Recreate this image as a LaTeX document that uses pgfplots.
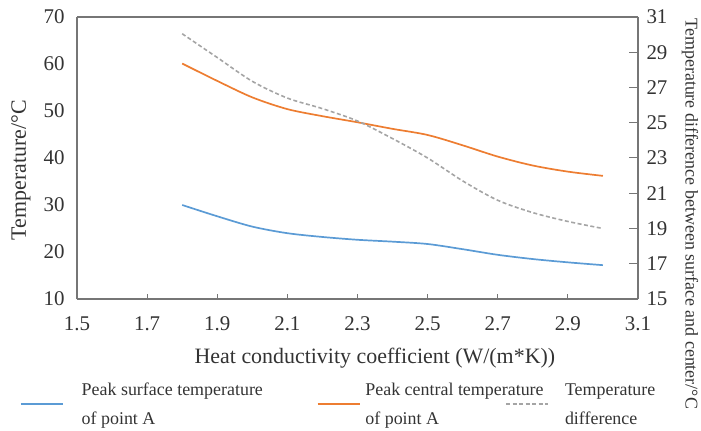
\documentclass[border=0pt]{standalone}
\usepackage{pgfplots}
\pgfplotsset{compat=1.18}
\usepackage{fontspec}
\setmainfont{Liberation Serif}
\definecolor{cblue}{RGB}{91,155,213}
\definecolor{corange}{RGB}{237,125,49}
\definecolor{cgray}{RGB}{165,165,165}
\definecolor{frame}{RGB}{118,118,118}
\newcommand\lgtwo[4]{\makebox[#1][l]{\hspace{#2}\begin{tabular}{@{}l@{}}#3\\[9bp]#4\end{tabular}}}

\pgfplotstableread{
x surf cent
1.8 30.0 60.1
1.9 27.6 56.4
2.0 25.4 52.9
2.1 24.0 50.4
2.2 23.2 48.9
2.3 22.6 47.6
2.4 22.2 46.2
2.5 21.7 44.9
2.6 20.6 42.7
2.7 19.4 40.3
2.8 18.5 38.4
2.9 17.8 37.1
3.0 17.2 36.2
}\tmain
\pgfplotstableread{
x diff
1.8 30.05
1.9 28.7
2.0 27.35
2.1 26.4
2.2 25.8
2.3 25.1
2.4 24.1
2.5 23.0
2.6 21.7
2.7 20.6
2.8 19.9
2.9 19.4
3.0 19.0
}\tdiff

\begin{document}
\begin{tikzpicture}
\begin{axis}[
  name=ax,
  scale only axis,
  width=561bp, height=282bp,
  xmin=1.5, xmax=3.1, ymin=10, ymax=70,
  xtick={1.5,1.7,...,3.1},
  ytick={10,20,...,70},
  axis y line*=left,
  axis x line*=bottom,
  axis line style={frame, line width=1.3bp},
  x tick style={frame, line width=1bp},
  xtick align=inside,
  major tick length=5bp,
  ytick style={draw=none},
  /pgf/number format/assume math mode=true,
  xticklabel style={/pgf/number format/fixed, /pgf/number format/fixed zerofill, /pgf/number format/precision=1},
  tick label style={font=\fontsize{21}{24}\selectfont, text=black!80},
  xticklabel style={yshift=-14bp},
  yticklabel style={xshift=-9bp},
  xlabel={Heat conductivity coefficient (W/(m*K))},
  xlabel style={font=\fontsize{22}{26}\selectfont, text=black!80, at={(rel axis cs:0.531,-0.21)}, anchor=center},
  ylabel={Temperature/°C},
  ylabel style={font=\fontsize{22}{26}\selectfont, text=black!80, at={(rel axis cs:-0.1,0.457)}, anchor=center},
  legend style={draw=none, fill=none, inner sep=0pt, outer sep=0pt,
    at={(rel axis cs:-0.1016,-0.344)}, anchor=west,
    font=\fontsize{18}{21}\selectfont, text=black!80,
    nodes={inner sep=0pt}, column sep=0pt},
  legend columns=3,
  legend cell align=left,
  legend image code/.code={\draw[#1] (0bp,-8bp) -- (42bp,-8bp);},
]
\addplot[cblue, line width=1.7bp, smooth, tension=0.5] table[x=x, y=surf] {\tmain};
\addlegendentry{\lgtwo{253bp}{18bp}{Peak surface temperature}{of point A}}
\addplot[corange, line width=1.7bp, smooth, tension=0.5] table[x=x, y=cent] {\tmain};
\addlegendentry{\lgtwo{145bp}{5bp}{Peak central temperature}{of point A}}
\addlegendimage{cgray, line width=1.6bp, dash pattern=on 4bp off 2.5bp}
\addlegendentry{\lgtwo{110bp}{16bp}{Temperature}{difference}}
\end{axis}
\begin{axis}[
  scale only axis,
  width=561bp, height=282bp,
  xmin=1.5, xmax=3.1, ymin=15, ymax=31,
  ytick={15,17,...,31},
  axis x line=none,
  axis y line*=right,
  axis line style={frame, line width=1.3bp},
  y tick style={frame, line width=1bp},
  ytick align=inside,
  major tick length=9bp,
  /pgf/number format/assume math mode=true,
  tick label style={font=\fontsize{21}{24}\selectfont, text=black!80},
  yticklabel style={xshift=5bp},
  ylabel={Temperature difference between surface and center/°C},
  ylabel style={font=\fontsize{18}{21}\selectfont, text=black!80, rotate=180, at={(rel axis cs:1.0927,1.007)}, anchor=west},
]
\addplot[cgray, line width=1.6bp, smooth, tension=0.5, dash pattern=on 4bp off 2.5bp] table[x=x, y=diff] {\tdiff};
\end{axis}
\draw[frame, line width=1.3bp] (ax.north west) -- (ax.north east);
\pgfresetboundingbox
\path (ax.south west) ++(-77bp,-132bp) rectangle ++(701bp,431bp);
\end{tikzpicture}
\end{document}
